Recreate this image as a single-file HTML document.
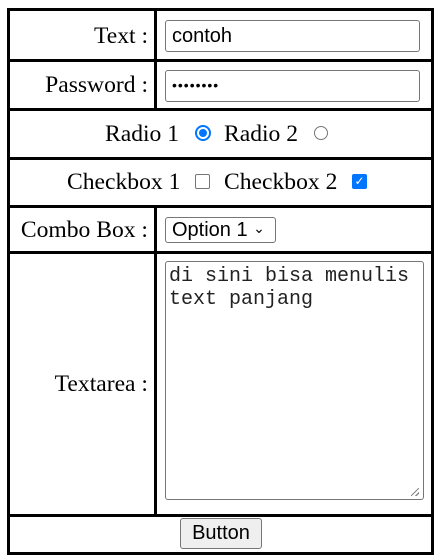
<!DOCTYPE html>
<html><head><style>
body{margin:0;width:441px;height:558px;background:#fff;position:relative;overflow:hidden;font-family:"Liberation Serif",serif;font-size:23.6px;color:#000}
.b{position:absolute;background:#000}
.t{position:absolute;white-space:nowrap;line-height:26px}
.in{position:absolute;border:1px solid #767676;border-radius:3px;box-sizing:border-box;background:#fff;font-family:"Liberation Sans",sans-serif;font-size:20px}
</style></head><body>
<div class="b" style="left:7px;top:8px;width:427px;height:3px"></div>
<div class="b" style="left:7px;top:552px;width:427px;height:3px"></div>
<div class="b" style="left:7px;top:8px;width:3px;height:547px"></div>
<div class="b" style="left:431px;top:8px;width:3px;height:547px"></div>
<div class="b" style="left:154px;top:8px;width:3px;height:101px"></div>
<div class="b" style="left:154px;top:206px;width:3px;height:311px"></div>
<div class="b" style="left:7px;top:59px;width:427px;height:3px"></div>
<div class="b" style="left:7px;top:108px;width:427px;height:3px"></div>
<div class="b" style="left:7px;top:157px;width:427px;height:3px"></div>
<div class="b" style="left:7px;top:205px;width:427px;height:3px"></div>
<div class="b" style="left:7px;top:251px;width:427px;height:3px"></div>
<div class="b" style="left:7px;top:514px;width:427px;height:3px"></div>

<div class="t" style="right:293px;top:23px">Text :</div>
<div class="t" style="right:293px;top:72px">Password :</div>
<div class="t" style="right:293px;top:217px">Combo Box :</div>
<div class="t" style="right:293px;top:371px">Textarea :</div>

<div class="in" style="left:165px;top:20px;width:255px;height:32px;padding:3px 6px;line-height:24px">contoh</div>
<div class="in" style="left:165px;top:70px;width:255px;height:32px;padding:3px 6px;line-height:22px;font-size:14px;letter-spacing:1px">••••••••</div>

<div class="t" style="left:105px;top:121px">Radio 1</div>
<div style="position:absolute;left:195px;top:125px;width:12px;height:12px;border:2px solid #0075ff;border-radius:50%"><div style="position:absolute;left:2px;top:2px;width:8px;height:8px;border-radius:50%;background:#0075ff"></div></div>
<div class="t" style="left:224px;top:121px">Radio 2</div>
<div style="position:absolute;left:314px;top:126px;width:12px;height:12px;border:1px solid #767676;border-radius:50%"></div>

<div class="t" style="left:67px;top:169px">Checkbox 1</div>
<div style="position:absolute;left:195px;top:174px;width:13px;height:13px;border:1px solid #767676;border-radius:2px"></div>
<div class="t" style="left:224px;top:169px">Checkbox 2</div>
<div style="position:absolute;left:352px;top:174px;width:15px;height:15px;background:#0075ff;border-radius:2px;color:#fff;font-family:'DejaVu Sans',sans-serif;font-size:12px;line-height:15px;text-align:center;font-weight:bold">✓</div>

<div class="in" style="left:165px;top:217px;width:111px;height:26px;padding:0 6px;line-height:24px">Option 1 <span style="font-size:14px;position:relative;top:-3px">&#8964;</span></div>

<div class="in" style="left:165px;top:261px;width:259px;height:239px;padding:3px 3px;font-family:'Liberation Mono','Courier New',monospace;font-size:20px;line-height:23px;color:#222">di sini bisa menulis<br>text panjang</div>
<div style="position:absolute;left:411px;top:488px;width:8px;height:8px;background:linear-gradient(135deg,transparent 45%,#888 45%,#888 55%,transparent 55%,transparent 75%,#888 75%,#888 85%,transparent 85%)"></div>

<div style="position:absolute;left:180px;top:518px;width:82px;height:31px;box-sizing:border-box;border:1px solid #767676;border-radius:3px;background:#efefef;font-family:'Liberation Sans',sans-serif;font-size:20px;line-height:29px;text-align:center">Button</div>
</body></html>
